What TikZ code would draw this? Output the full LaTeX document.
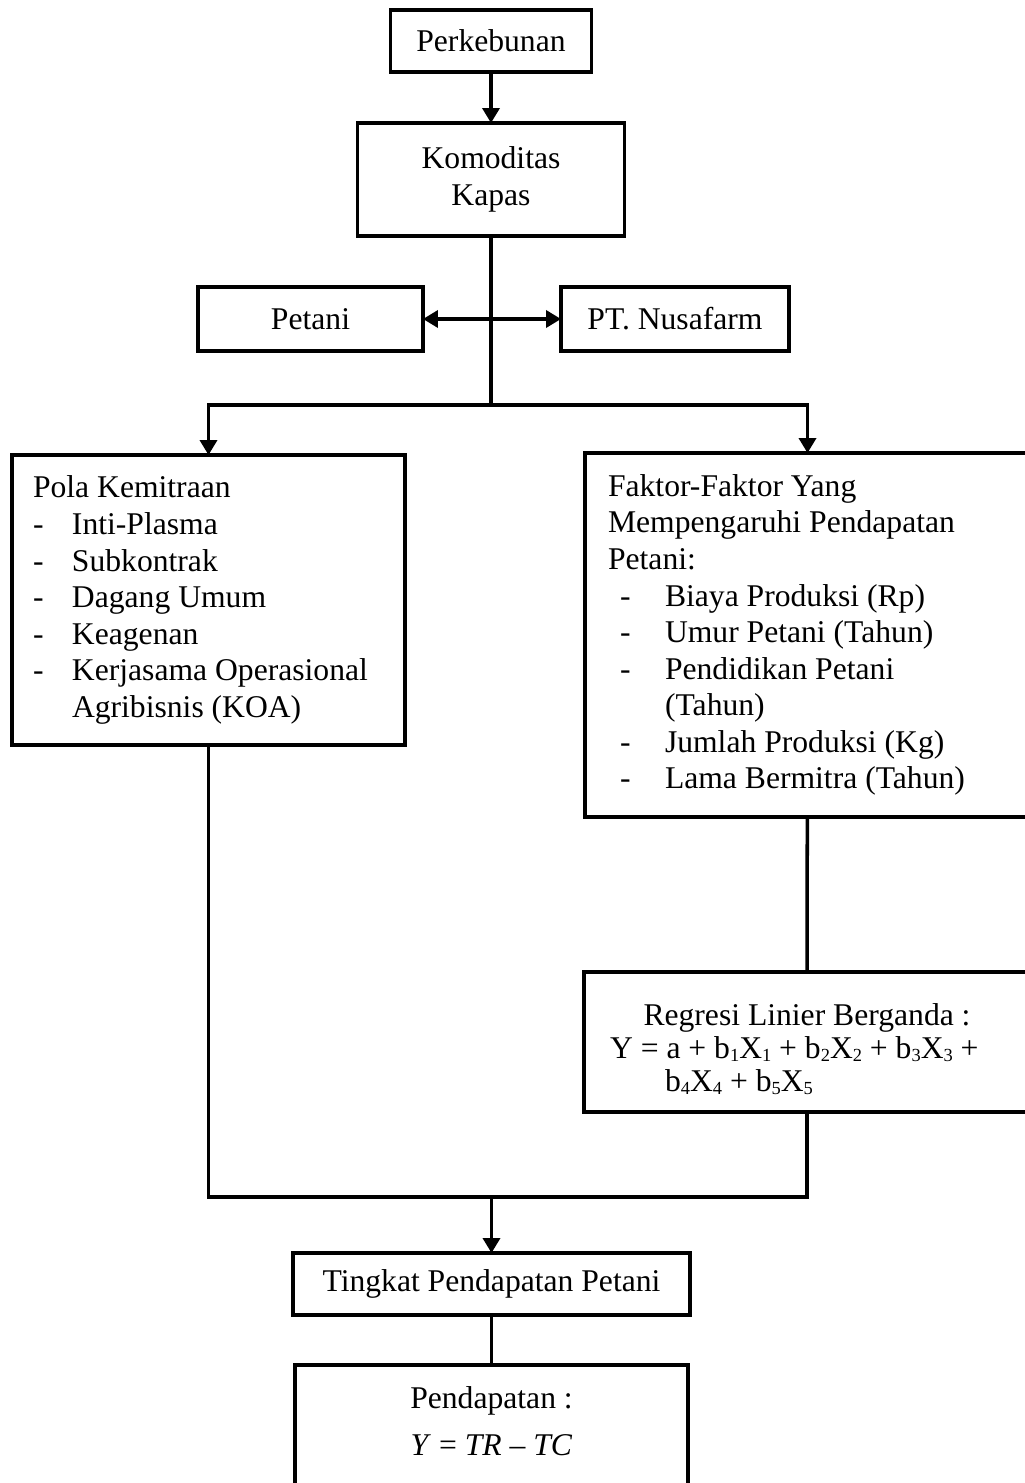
\documentclass[tikz,border=0pt]{standalone}
\usepackage{fontspec}
\setmainfont{Liberation Serif}
\usepackage{tikz}
\usetikzlibrary{arrows.meta}

\newcommand{\butir}[1]{\makebox[0.78cm][l]{-}#1}
\newcommand{\butirb}[1]{\hspace*{0.24cm}\makebox[0.9cm][l]{-}#1}
\newcommand{\subs}[1]{\raisebox{-1.5pt}{\fontsize{10.5}{10.5}\selectfont #1}}

\begin{document}
\begin{tikzpicture}[x=0.02cm,y=-0.02cm,
   every node/.style={font=\fontsize{18}{20.8}\selectfont},
   box/.style={draw,rectangle,line width=2pt,outer sep=0pt,inner sep=0pt},
   line/.style={line width=2pt},
   arr/.style={line width=2pt,-{Triangle[length=0.3cm,width=0.34cm]}},
   arrs/.style={line width=2pt,{Triangle[length=0.3cm,width=0.34cm]}-{Triangle[length=0.3cm,width=0.34cm]}}]
\useasboundingbox (0,0) rectangle (1024,1483);
\node[box,minimum width=4.02cm,minimum height=1.24cm] (kebun) at (491,41) {Perkebunan};
\node[box,minimum width=5.34cm,minimum height=2.26cm,align=center] (kapas) at (491,179.5) {Komoditas\\Kapas};
\node[box,minimum width=4.5cm,minimum height=1.28cm] (petani) at (310.5,319) {Petani};
\node[box,minimum width=4.56cm,minimum height=1.28cm] (nusa) at (675,319) {PT. Nusafarm};
\node[box,minimum height=5.8cm,text width=7.02cm,inner xsep=0.42cm,align=flush left] (pola) at (208.5,600)
   {Pola Kemitraan\\ \butir{Inti-Plasma}\\ \butir{Subkontrak}\\ \butir{Dagang Umum}\\ \butir{Keagenan}\\
    \butir{Kerjasama Operasional}\\ \hspace*{0.78cm}Agribisnis (KOA)};
\node[box,minimum height=7.28cm,text width=7.98cm,inner xsep=0.46cm,align=flush left] (faktor) at (807.5,635)
   {Faktor-Faktor Yang\\ Mempengaruhi Pendapatan\\ Petani:\\ \butirb{Biaya Produksi (Rp)}\\ \butirb{Umur Petani (Tahun)}\\
    \butirb{Pendidikan Petani}\\ \hspace*{1.14cm}(Tahun)\\ \butirb{Jumlah Produksi (Kg)}\\ \butirb{Lama Bermitra (Tahun)}};
\node[box,minimum height=2.8cm,text width=7.88cm,inner xsep=0.52cm,align=flush left,font=\fontsize{18}{18.9}\selectfont] (regresi) at (807,1042)
   {\rule{0pt}{20.5pt}\hfill Regresi Linier Berganda :\hfill\mbox{}\\
    \mbox{Y = a + b\subs{1}X\subs{1} + b\subs{2}X\subs{2} + b\subs{3}X\subs{3} +}\\
    \hspace*{1.1cm}b\subs{4}X\subs{4} + b\subs{5}X\subs{5}};
\node[box,minimum width=7.94cm,minimum height=1.24cm] (tingkat) at (491.5,1284) {Tingkat Pendapatan Petani};
\node[box,minimum width=7.86cm,inner ysep=0.44cm,align=center,anchor=north] (hasil) at (491.5,1365)
   {Pendapatan :\\[0.2cm] \textit{Y} = \textit{TR} – \textit{TC}\rule[-1.5cm]{0pt}{1.5cm}};
\coordinate (split) at (491,405);
\coordinate (join) at (491.5,1197);
\draw[arr] (kebun) -- (kapas);
\draw[line] (kapas) -- (split);
\draw[arrs] (pola.north) |- (split) -| (faktor.north);
\draw[arrs] (petani) -- (nusa);
\draw[line] (faktor) -- (regresi);
\draw[line] (pola.south) |- (join) -| (regresi.south);
\draw[arr] (join) -- (tingkat);
\draw[line] (tingkat) -- (hasil);
\end{tikzpicture}
\end{document}
